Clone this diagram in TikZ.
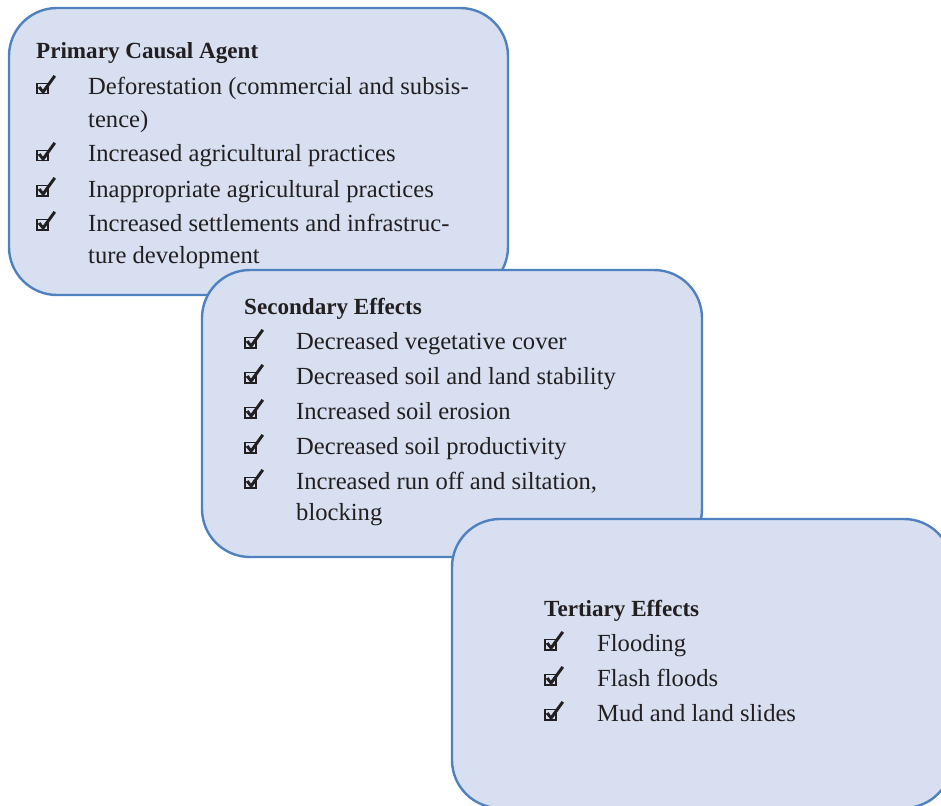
\documentclass[tikz,border=0pt]{standalone}
\usepackage{fontspec}
\setmainfont{Liberation Serif}
\definecolor{boxfill}{RGB}{215,223,241}
\definecolor{boxline}{RGB}{79,129,193}
\definecolor{txt}{RGB}{35,31,32}
\begin{document}
\begin{tikzpicture}[x=1pt,y=-1pt,
  panel/.style={draw=boxline, fill=boxfill, line width=2.4pt, rounded corners=48pt,
    anchor=north west, inner sep=0pt, outer sep=0pt},
  head/.style={anchor=base west, inner sep=0pt, font=\fontsize{23.1}{28}\selectfont\bfseries, text=txt},
  item/.style={anchor=base west, inner sep=0pt, font=\fontsize{24.6}{30}\selectfont, text=txt},
  chk/.pic={
    \draw[txt, line width=1.7pt] (0.85,-0.85) rectangle (12.3,-11);
    \fill[txt] (1.8,-6.8) -- (4.6,-8.3) -- (6.9,-4.8) -- (17.6,-19.5) -- (20,-17.8) -- (7.2,0) -- cycle;
  }]
\useasboundingbox (0,0) rectangle (941,805);
\clip (0,0) rectangle (941,805);

% ---- Box 1
\node[panel, minimum width=499pt, minimum height=287pt] (b1) at (9,8) {};
\node[head] (h1) at (36,59) {Primary Causal Agent};
\pic at (36,94.5) {chk};
\node[item] (p1a) at (88,95) {Deforestation (commercial and subsis-};
\node[item] (p1b) at (88,128) {tence)};
\pic at (36,161.5) {chk};
\node[item] (p2) at (88,162) {Increased agricultural practices};
\pic at (36,196.5) {chk};
\node[item] (p3) at (88,197) {Inappropriate agricultural practices};
\pic at (36,230.5) {chk};
\node[item] (p4a) at (88,231) {Increased settlements and infrastruc-};
\node[item] (p4b) at (88,263) {ture development};

% ---- Box 2
\node[panel, minimum width=500pt, minimum height=287pt] (b2) at (202,270) {};
\node[head] (h2) at (244,314) {Secondary Effects};
\pic at (244,348.5) {chk};
\node[item] (s1) at (296,349) {Decreased vegetative cover};
\pic at (244,383.5) {chk};
\node[item] (s2) at (296,384) {Decreased soil and land stability};
\pic at (244,418.5) {chk};
\node[item] (s3) at (296,419) {Increased soil erosion};
\pic at (244,453.5) {chk};
\node[item] (s4) at (296,454) {Decreased soil productivity};
\pic at (244,488.5) {chk};
\node[item] (s5a) at (296,489) {Increased run off and siltation,};
\node[item] (s5b) at (296,520) {blocking};

% ---- Box 3
\node[panel, minimum width=500pt, minimum height=289pt] (b3) at (452,519) {};
\node[head] (h3) at (544,616) {Tertiary Effects};
\pic at (544,650.5) {chk};
\node[item] (t1) at (597,651) {Flooding};
\pic at (544,685.5) {chk};
\node[item] (t2) at (597,686) {Flash floods};
\pic at (544,720.5) {chk};
\node[item] (t3) at (597,721) {Mud and land slides};
\end{tikzpicture}
\end{document}
